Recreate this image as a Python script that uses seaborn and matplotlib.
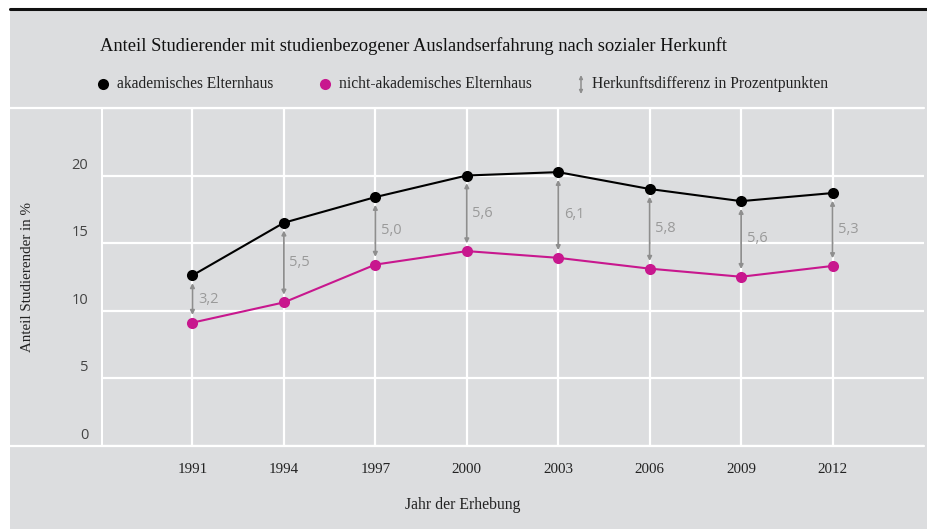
import pandas as pd
import matplotlib.pyplot as plt
import seaborn as sns
from matplotlib.lines import Line2D
from matplotlib.patches import Rectangle, FancyArrowPatch
from matplotlib.transforms import ScaledTranslation

# ── Daten ────────────────────────────────────────────────────────────
jahre = [1991, 1994, 1997, 2000, 2003, 2006, 2009, 2012]
akademisch = [12.6, 16.5, 18.4, 20.0, 20.25, 19.0, 18.1, 18.7]
nicht_akademisch = [9.1, 10.6, 13.4, 14.4, 13.9, 13.1, 12.5, 13.3]
differenz_labels = ["3,2", "5,5", "5,0", "5,6", "6,1", "5,8", "5,6", "5,3"]
y_ticks = [0, 5, 10, 15, 20, 25]
y_ticklabels = ["0", "5", "10", "15", "20", ""]

serien = ["akademisches Elternhaus", "nicht-akademisches Elternhaus"]
df = pd.DataFrame({
    "jahr": jahre * 2,
    "anteil": akademisch + nicht_akademisch,
    "herkunft": [serien[0]] * len(jahre) + [serien[1]] * len(jahre),
})

BG = "#dcdddf"
MAGENTA = "#c8178e"
GRAU = "#8e8e8e"
SERIF = ["Liberation Serif", "DejaVu Serif"]
SANS = ["Open Sans", "DejaVu Sans"]

sns.set_theme(style="whitegrid")
plt.rcParams["font.family"] = SERIF

W, H = 928, 529
fig = plt.figure(figsize=(W / 100, H / 100), dpi=100, facecolor="white")

# grauer Hintergrund + schwarze Linie oben
fig.add_artist(Rectangle((10 / W, 0), 1, 1 - 10 / H, transform=fig.transFigure,
                         facecolor=BG, edgecolor="none", zorder=0))
fig.add_artist(Line2D([10 / W, 1], [1 - 9 / H, 1 - 9 / H], transform=fig.transFigure,
                      color="#111111", lw=2.2))

ax = fig.add_axes([101 / W, 1 - 445.5 / H, 823 / W, 337.5 / H])
ax.set_facecolor(BG)
for s in ax.spines.values():
    s.set_visible(False)

sns.lineplot(data=df, x="jahr", y="anteil", hue="herkunft",
             palette={serien[0]: "black", serien[1]: MAGENTA},
             marker="o", markersize=8, markeredgewidth=0, linewidth=1.5,
             legend=False, ax=ax, zorder=4)

# Differenzpfeile
for x, a, n, lab in zip(jahre, akademisch, nicht_akademisch, differenz_labels):
    ax.annotate("", xy=(x, n), xytext=(x, a),
                arrowprops=dict(arrowstyle="<|-|>", color=GRAU, lw=1.3,
                                shrinkA=5.5, shrinkB=5.5, mutation_scale=6),
                zorder=3)
    ax.annotate(lab, xy=(x, (a + n) / 2), xytext=(4, 0), textcoords="offset points",
                ha="left", va="center", color="#9a9a9a", fontsize=10.5, family=SANS)

ax.set_xlim(1988, 2015)
ax.set_ylim(0, 25)
ax.set_xticks(jahre)
ax.set_xticklabels([str(j) for j in jahre], fontsize=10.8, color="#222222")
ax.set_yticks(y_ticks)
ax.set_yticklabels(y_ticklabels, fontsize=10.5, color="#444444", family=SANS)
ax.tick_params(axis="both", length=0)
ax.tick_params(axis="x", pad=12.5)
ax.tick_params(axis="y", pad=9)
for lab in ax.get_yticklabels():
    lab.set_va("bottom")
    lab.set_transform(lab.get_transform() + ScaledTranslation(0, 2 / 72, fig.dpi_scale_trans))

ax.grid(True, color="white", lw=1.6)
ax.axvline(1988, color="white", lw=2.2, zorder=1)
ext = -91 / 823
for yv in (0, 25):
    ax.axhline(yv, xmin=ext, xmax=1, color="white", lw=1.6, clip_on=False, zorder=1)

ax.set_xlabel("Jahr der Erhebung", fontsize=11.3, color="#222222")
ax.set_ylabel("Anteil Studierender in %", fontsize=10.8, color="#222222")
ax.xaxis.set_label_coords((463 - 101) / 823, -(497 - 445.5) / 337.5)
ax.yaxis.set_label_coords((34 - 101) / 823, 0.5)

# Titel
fig.text(100 / W, 1 - 46 / H, "Anteil Studierender mit studienbezogener Auslandserfahrung nach sozialer Herkunft",
         ha="left", va="center", fontsize=13.3, color="#111111")

# Legende
ly = 1 - 84 / H
fs_leg = 11.2
fig.add_artist(Line2D([103 / W], [ly], transform=fig.transFigure, marker="o",
                      markersize=8, color="black", markeredgewidth=0))
fig.text(117 / W, ly, serien[0], ha="left", va="center", fontsize=fs_leg, color="#222222")
fig.add_artist(Line2D([325 / W], [ly], transform=fig.transFigure, marker="o",
                      markersize=8, color=MAGENTA, markeredgewidth=0))
fig.text(339 / W, ly, serien[1], ha="left", va="center", fontsize=fs_leg, color="#222222")
fig.add_artist(FancyArrowPatch(
    (581 / W, 1 - 75 / H), (581 / W, 1 - 94 / H), transform=fig.transFigure,
    arrowstyle="<|-|>", mutation_scale=5, color=GRAU, lw=1.1,
    shrinkA=0, shrinkB=0))
fig.text(592 / W, ly, "Herkunftsdifferenz in Prozentpunkten", ha="left", va="center",
         fontsize=fs_leg, color="#222222")

fig.savefig("out.png", dpi=100, facecolor="white")
